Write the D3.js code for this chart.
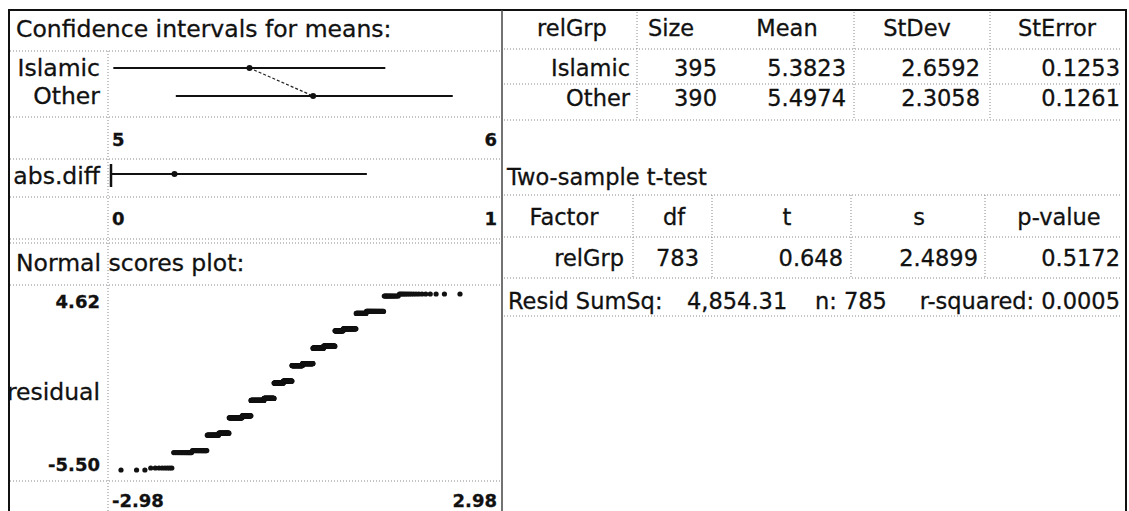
<!DOCTYPE html>
<meta charset="utf-8">
<script src="https://d3js.org/d3.v7.min.js"></script>
<style>
  body { margin: 0; background: #fff; }
  text { font-family: "DejaVu Sans", Verdana, sans-serif; fill: #111; stroke: #111; stroke-width: 0.3px; }
</style>
<div id="my_dataviz"></div>
<script>
// group summary
var groups = ["Islamic", "Other"];
var sizes = [395, 390];
var means = [5.3823, 5.4974];
var stDevs = [2.6592, 2.3058];
var stErrors = [0.1253, 0.1261];
// confidence intervals for the means
var ciLow = [5.136, 5.249];
var ciHigh = [5.628, 5.750];
var ciTicks = ["5", "6"];
// abs.diff interval
var diffLow = 0, diffEst = 0.1151, diffHigh = 0.464;
var diffTicks = ["0", "1"];
// counts of each rating 0..10 per group (estimated from the normal scores plot)
var levels = [0, 1, 2, 3, 4, 5, 6, 7, 8, 9, 10];
var countsIslamic = [8, 21, 28, 37, 54, 50, 58, 51, 41, 30, 17];
var countsOther = [3, 15, 24, 45, 63, 53, 61, 54, 32, 25, 15];
var nsXTicks = ["-2.98", "2.98"];
var nsYTicks = ["4.62", "-5.50"];
// t-test table
var mHeads = ["relGrp", "Size", "Mean", "StDev", "StError"];
var tHeaders = ["Factor", "df", "t", "s", "p-value"];
var tRow = ["relGrp", "783", "0.648", "2.4899", "0.5172"];
var summary = ["Resid SumSq:", "4,854.31", "n: 785", "r-squared: 0.0005"];

var W = 1129, H = 511;
var svg = d3.select("#my_dataviz").append("svg")
  .attr("width", W).attr("height", H);

function dotted(x1, y1, x2, y2) {
  svg.append("line").attr("x1", x1).attr("y1", y1).attr("x2", x2).attr("y2", y2)
    .attr("stroke", "#888").attr("stroke-width", 1).attr("stroke-dasharray", "1,2");
}
function label(x, y, s, anchor, size, bold) {
  return svg.append("text").attr("x", x).attr("y", y).attr("dy", "0.35em")
    .attr("text-anchor", anchor || "start")
    .style("font-size", size + "px")
    .style("font-weight", bold ? "bold" : "normal")
    .text(s);
}

// ---- left panel ----
var L = 10, DIV = 108, R = 502;
var fs = 23.5, tickFs = 18;
label(16, 29, "Confidence intervals for means:", "start", fs);
[51, 117, 159, 197, 239, 243, 285, 481].forEach(function(y) { dotted(L, y, R - 2, y); });
dotted(DIV, 51, DIV, H);

var xCI = d3.scaleLinear().domain([5.13, 5.83]).range([110, 497]);
var yCI = d3.scalePoint().domain(groups).range([68, 96]);
groups.forEach(function(g, i) {
  label(100, yCI(g), g, "end", fs);
  svg.append("line").attr("x1", xCI(ciLow[i])).attr("x2", xCI(ciHigh[i]))
    .attr("y1", yCI(g)).attr("y2", yCI(g)).attr("stroke", "#111").attr("stroke-width", 2);
});
svg.append("line").attr("x1", xCI(means[0])).attr("y1", yCI(groups[0]))
  .attr("x2", xCI(means[1])).attr("y2", yCI(groups[1]))
  .attr("stroke", "#222").attr("stroke-width", 1.2).attr("stroke-dasharray", "3,2");
groups.forEach(function(g, i) {
  svg.append("circle").attr("cx", xCI(means[i])).attr("cy", yCI(g)).attr("r", 3).attr("fill", "#111");
});
label(112, 140, ciTicks[0], "start", tickFs, true);
label(497, 140, ciTicks[1], "end", tickFs, true);

var xD = d3.scaleLinear().domain([0, 0.70]).range([111, 497]);
label(100, 176, "abs.diff", "end", fs);
svg.append("line").attr("x1", xD(diffLow)).attr("x2", xD(diffHigh)).attr("y1", 174).attr("y2", 174)
  .attr("stroke", "#111").attr("stroke-width", 2);
svg.append("line").attr("x1", xD(diffLow)).attr("x2", xD(diffLow)).attr("y1", 164).attr("y2", 187)
  .attr("stroke", "#111").attr("stroke-width", 2.5);
svg.append("circle").attr("cx", xD(diffEst)).attr("cy", 174).attr("r", 3).attr("fill", "#111");
label(112, 219, diffTicks[0], "start", tickFs, true);
label(497, 219, diffTicks[1], "end", tickFs, true);

// normal scores plot
label(16, 263, "Normal scores plot:", "start", fs);
function invNorm(p) {
  // Acklam's rational approximation
  var a = [-39.6968302866538, 220.946098424521, -275.928510446969, 138.357751867269, -30.6647980661472, 2.50662827745924];
  var b = [-54.4760987982241, 161.585836858041, -155.698979859887, 66.8013118877197, -13.2806815528857];
  var c = [-0.00778489400243029, -0.322396458041136, -2.40076449732156, -2.54973253934373, 4.37466414146497, 2.93816398269878];
  var d = [0.00778469570904146, 0.32246712907004, 2.445134137143, 3.75440866190742];
  var q, r;
  if (p < 0.02425) {
    q = Math.sqrt(-2 * Math.log(p));
    return (((((c[0]*q+c[1])*q+c[2])*q+c[3])*q+c[4])*q+c[5]) / ((((d[0]*q+d[1])*q+d[2])*q+d[3])*q+1);
  } else if (p > 1 - 0.02425) {
    q = Math.sqrt(-2 * Math.log(1 - p));
    return -(((((c[0]*q+c[1])*q+c[2])*q+c[3])*q+c[4])*q+c[5]) / ((((d[0]*q+d[1])*q+d[2])*q+d[3])*q+1);
  }
  q = p - 0.5; r = q * q;
  return (((((a[0]*r+a[1])*r+a[2])*r+a[3])*r+a[4])*r+a[5])*q / (((((b[0]*r+b[1])*r+b[2])*r+b[3])*r+b[4])*r+1);
}
var resid = [];
levels.forEach(function(v, k) {
  for (var j = 0; j < countsIslamic[k]; j++) resid.push(v - means[0]);
  for (var j = 0; j < countsOther[k]; j++) resid.push(v - means[1]);
});
resid.sort(d3.ascending);
var n = resid.length;
var pts = resid.map(function(r, i) { return { z: invNorm((i + 1 - 0.375) / (n + 0.25)), r: r }; });

var xN = d3.scaleLinear().domain(d3.extent(pts, function(d) { return d.z; })).range([121, 460]);
var yN = d3.scaleLinear().domain(d3.extent(pts, function(d) { return d.r; })).range([470, 294]);
svg.append("g").selectAll("circle").data(pts).enter().append("circle")
  .attr("cx", function(d) { return xN(d.z); })
  .attr("cy", function(d) { return yN(d.r); })
  .attr("r", 2.6).attr("fill", "#111");
label(100, 302, nsYTicks[0], "end", tickFs, true);
label(100, 392, "residual", "end", fs);
label(100, 465, nsYTicks[1], "end", tickFs, true);
label(112, 501, nsXTicks[0], "start", tickFs, true);
label(497, 501, nsXTicks[1], "end", tickFs, true);

// ---- right panel ----
var tfs = 22.5;
var mHeadX = [572, 671, 787, 917, 1057];
var colRight = [630, 717, 846, 980, 1120];
mHeads.forEach(function(h, i) { label(mHeadX[i], 28, h, "middle", tfs); });
groups.forEach(function(g, i) {
  var y = [68, 98][i];
  var row = [g, String(sizes[i]), means[i].toFixed(4), stDevs[i].toFixed(4), stErrors[i].toFixed(4)];
  row.forEach(function(s, j) { label(colRight[j], y, s, "end", tfs); });
});
[49, 84, 120].forEach(function(y) { dotted(R + 2, y, 1122, y); });
[637, 854, 990].forEach(function(x) { dotted(x, 12, x, 120); });

label(507, 177, "Two-sample t-test", "start", tfs);
var tHeadX = [564, 674, 787, 919, 1059];
tHeaders.forEach(function(h, i) { label(tHeadX[i], 217, h, "middle", tfs); });
var tRight = [624, 696, 843, 978, 1120];
tRow.forEach(function(s, i) {
  if (i === 1) label(656, 258, s, "start", tfs);
  else label(tRight[i], 258, s, "end", tfs);
});
[195, 237, 278, 316].forEach(function(y) { dotted(R + 2, y, 1122, y); });
[633, 712, 851, 985].forEach(function(x) { dotted(x, 195, x, 278); });
label(508, 301, summary[0], "start", tfs);
label(687, 301, summary[1], "start", tfs);
label(815, 301, summary[2], "start", tfs);
label(1120, 301, summary[3], "end", tfs);

// ---- frame ----
svg.append("line").attr("x1", 8).attr("x2", 1127).attr("y1", 10).attr("y2", 10).attr("stroke", "#111").attr("stroke-width", 2);
svg.append("line").attr("x1", 9).attr("x2", 9).attr("y1", 10).attr("y2", H).attr("stroke", "#111").attr("stroke-width", 2);
svg.append("line").attr("x1", 1126).attr("x2", 1126).attr("y1", 10).attr("y2", H).attr("stroke", "#111").attr("stroke-width", 2);
svg.append("line").attr("x1", R).attr("x2", R).attr("y1", 10).attr("y2", H).attr("stroke", "#444").attr("stroke-width", 1.5);
</script>
